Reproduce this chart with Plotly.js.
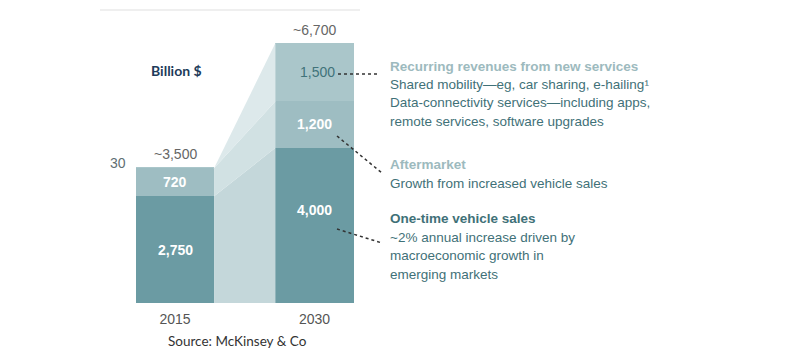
<!DOCTYPE html>
<html>
<head>
<meta charset="utf-8">
<script src="https://cdn.plot.ly/plotly-3.0.1.min.js"></script>
<style>html,body{margin:0;padding:0;background:#fff;}#chart{width:800px;height:361px;}</style>
</head>
<body>
<div id="chart"></div>
<script>
// ---- data ----
const years = ['2015', '2030'];
const oneTimeSales = [2750, 4000];
const aftermarket = [720, 1200];
const recurring = [30, 1500];
const totalLabels = ['~3,500', '~6,700'];
const segmentLabels = {
  oneTime: ['2,750', '4,000'],
  aftermarket: ['720', '1,200'],
  recurring: ['30', '1,500']
};
const unitLabel = 'Billion $';
const sourceText = 'Source: McKinsey & Co';
const recurringTitle = 'Recurring revenues from new services';
const recurringLines = ['Shared mobility\u2014eg, car sharing, e-hailing\u00b9',
  'Data-connectivity services\u2014including apps,',
  'remote services, software upgrades'];
const aftermarketTitle = 'Aftermarket';
const aftermarketLines = ['Growth from increased vehicle sales'];
const oneTimeTitle = 'One-time vehicle sales';
const oneTimeLines = ['~2% annual increase driven by', 'macroeconomic growth in', 'emerging markets'];

// ---- layout geometry ----
const W = 800, H = 361;
const mL = 100, mR = 0, mT = 0, mB = 58;
const plotH = H - mT - mB;           // 303
const pxPerX = 139.5;
const xMin = -75 / pxPerX;
const xMax = xMin + (W - mL - mR) / pxPerX;
const pxPerY = 260 / 6700;
const yMax = plotH / pxPerY;
const barW = 0.56;
const xs = [0, 1];
const pxToX = px => (px - mL) / pxPerX + xMin;
const pxToY = py => (mT + plotH - py) / pxPerY;
const pxToPaperY = py => (mT + plotH - py) / plotH;

const cDark = '#6b9ba3', cMid = '#9ebdc2', cTop = '#aac6ca';
const connColors = ['#c4d7da', '#d1e1e3', '#dde9eb'];
const fontMain = 'Liberation Sans, Arial, sans-serif';

const layers = [oneTimeSales, aftermarket, recurring];
const layerColors = [cDark, cMid, cTop];
const traces = [];

// connector polygons
const bottoms = [[0, 0]];
for (let i = 0; i < layers.length; i++) {
  bottoms.push([bottoms[i][0] + layers[i][0], bottoms[i][1] + layers[i][1]]);
}
for (let i = 0; i < layers.length; i++) {
  const xl = xs[0] + barW / 2, xr = xs[1] - barW / 2;
  traces.push({
    type: 'scatter', mode: 'lines', fill: 'toself',
    x: [xl, xr, xr, xl, xl],
    y: [bottoms[i][0], bottoms[i][1], bottoms[i + 1][1], bottoms[i + 1][0], bottoms[i][0]],
    fillcolor: connColors[i], line: {width: 0}, hoverinfo: 'skip', showlegend: false
  });
}
// bars
for (let i = 0; i < layers.length; i++) {
  traces.push({
    type: 'bar', x: xs, y: layers[i], width: barW,
    marker: {color: layerColors[i], line: {width: 0}},
    hoverinfo: 'skip', showlegend: false
  });
}

const ann = [];
const t = (x, y, text, font, extra) => ann.push(Object.assign({
  x, y, text, showarrow: false, font, xref: 'x', yref: 'y', yanchor: 'middle'
}, extra || {}));

// in-bar labels
const white = {family: fontMain, size: 14, color: '#ffffff'};
t(xs[0], oneTimeSales[0] * 0.5, '<b>' + segmentLabels.oneTime[0] + '</b>', white);
t(xs[1], oneTimeSales[1] * 0.6, '<b>' + segmentLabels.oneTime[1] + '</b>', white);
t(xs[0], oneTimeSales[0] + aftermarket[0] / 2, '<b>' + segmentLabels.aftermarket[0] + '</b>', white);
t(xs[1], oneTimeSales[1] + aftermarket[1] / 2, '<b>' + segmentLabels.aftermarket[1] + '</b>', white);
t(xs[1] + 0.02, bottoms[2][1] + recurring[1] / 2, segmentLabels.recurring[1],
  {family: fontMain, size: 14, color: '#41737a'});
// 30 label at left of 2015 bar
t(xs[0] - barW / 2, bottoms[3][0], segmentLabels.recurring[0],
  {family: fontMain, size: 14, color: '#5f6f73'}, {xanchor: 'right', xshift: -8, yshift: 4});
// totals
for (let k = 0; k < 2; k++) {
  t(xs[k], bottoms[3][k], totalLabels[k], {family: fontMain, size: 14, color: '#666666'},
    {yanchor: 'bottom', yshift: 3});
}
// unit label
t(pxToX(176), pxToY(70), '<b>' + unitLabel + '</b>', {family: 'Lato, sans-serif', size: 14, color: '#1d3b5a'});
// source (below plot area -> paper reference)
t(pxToX(237), pxToPaperY(341), sourceText, {family: 'Lato, sans-serif', size: 13.5, color: '#333333'},
  {yref: 'paper', yanchor: 'middle'});

// right-hand notes
const xText = pxToX(388);
const light = '#9dbabe', teal = '#3f7178';
const note = (py, text, color, bold) => t(xText, pxToY(py), bold ? '<b>' + text + '</b>' : text,
  {family: fontMain, size: 13.5, color}, {xanchor: 'left'});
note(66, recurringTitle, light, true);
recurringLines.forEach((s, i) => note(84 + i * 18.5, s, teal, false));
note(164, aftermarketTitle, light, true);
aftermarketLines.forEach((s, i) => note(183, s, teal, false));
note(218, oneTimeTitle, teal, true);
oneTimeLines.forEach((s, i) => note(237 + i * 18.5, s, teal, false));

// dotted leaders
const dot = {color: '#333333', width: 1.5, dash: 'dot'};
const shapes = [
  {type: 'line', xref: 'x', yref: 'y', x0: pxToX(338), y0: pxToY(74), x1: pxToX(377), y1: pxToY(74), line: dot},
  {type: 'line', xref: 'x', yref: 'y', x0: pxToX(337), y0: pxToY(136), x1: pxToX(382), y1: pxToY(173), line: dot},
  {type: 'line', xref: 'x', yref: 'y', x0: pxToX(337), y0: pxToY(229), x1: pxToX(382), y1: pxToY(243), line: dot},
  {type: 'line', xref: 'x', yref: 'y', x0: pxToX(100), y0: pxToY(10), x1: pxToX(360), y1: pxToY(10),
   line: {color: '#efefef', width: 2}}
];

const layout = {
  width: W, height: H,
  margin: {l: mL, r: mR, t: mT, b: mB, pad: 0},
  paper_bgcolor: '#ffffff', plot_bgcolor: '#ffffff',
  barmode: 'stack', bargap: 0,
  showlegend: false,
  xaxis: {range: [xMin, xMax], tickvals: xs, ticktext: years, showgrid: false, zeroline: false,
    showline: false, ticks: 'outside', ticklen: 3, tickcolor: 'rgba(0,0,0,0)',
    tickfont: {family: fontMain, size: 14, color: '#555555'}, fixedrange: true},
  yaxis: {range: [0, yMax], visible: false, fixedrange: true},
  annotations: ann,
  shapes: shapes
};
Plotly.newPlot('chart', traces, layout, {displayModeBar: false, staticPlot: true});
</script>
</body>
</html>
